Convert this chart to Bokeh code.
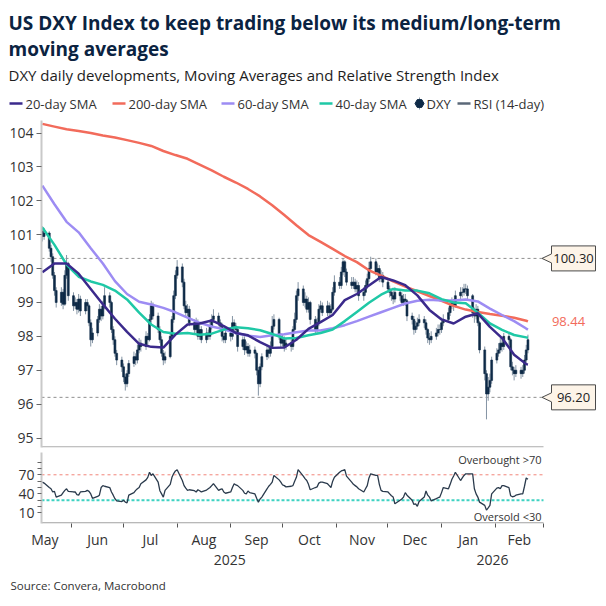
import pandas as pd
from bokeh.plotting import figure
from bokeh.layouts import column
from bokeh.models import Range1d, FixedTicker, LinearAxis
from bokeh.core.properties import value
from bokeh.embed import file_html
from bokeh.resources import INLINE

# ---------------------------------------------------------------- data
# DXY daily candles (business days from 15 May 2025)
first_open = 101.10
close = [
    100.95, 101.05, 100.60, 100.35, 99.80, 99.35, 99.00, 99.30, 98.95, 99.80,
    100.15, 99.20, 98.90, 99.00, 98.80, 99.10, 98.75, 99.00, 98.90, 98.40,
    97.90, 98.10, 98.50, 98.80, 98.60, 98.90, 99.20, 99.00, 98.20, 97.90,
    97.50, 97.30, 97.10, 96.80, 96.60, 96.90, 97.20, 97.40, 97.30, 97.60,
    97.80, 97.70, 98.00, 97.90, 98.50, 98.90, 98.60, 98.20, 97.90, 97.50,
    97.30, 97.40, 98.00, 98.50, 99.20, 99.80, 100.05, 99.60, 98.90, 98.70,
    98.80, 98.40, 98.20, 98.40, 98.00, 98.20, 97.90, 98.10, 98.00, 98.30,
    98.50, 98.60, 98.40, 98.30, 98.00, 97.90, 98.10, 98.00, 98.40, 98.30,
    98.20, 97.70, 97.90, 97.60, 97.70, 97.50, 97.60, 97.50, 97.00, 96.60,
    97.10, 97.40, 97.60, 97.50, 97.70, 98.30, 98.50, 98.00, 97.80, 97.90,
    97.70, 97.80, 97.70, 98.20, 98.50, 99.20, 99.40, 99.00, 99.10, 98.80,
    99.00, 98.50, 98.20, 98.40, 98.80, 98.90, 98.70, 98.90, 98.70, 98.80,
    99.30, 99.60, 99.50, 99.90, 100.20, 99.90, 99.60, 99.50, 99.60, 99.40,
    99.50, 99.20, 99.30, 99.50, 99.70, 100.00, 100.20, 99.90, 100.00, 99.70,
    99.80, 99.60, 99.40, 99.30, 99.20, 99.10, 99.30, 99.20, 99.00, 99.10,
    99.05, 98.60, 98.50, 98.20, 98.30, 98.40, 98.50, 98.40, 98.20, 97.95,
    97.90, 98.00, 98.10, 98.20, 98.20, 98.40, 98.50, 98.70, 98.90, 99.00,
    98.90, 99.20, 99.30, 99.30, 99.40, 99.40, 99.20, 98.70, 98.60, 98.80,
    98.40, 97.60, 96.90, 96.30, 96.50, 96.70, 97.30, 97.50, 97.60, 97.80,
    97.70, 98.00, 97.90, 97.10, 97.00, 96.90, 97.00, 96.90, 97.00, 97.30,
    97.60, 97.90,
]
high = [
    101.25, 101.20, 101.10, 100.70, 100.45, 99.90, 99.45, 99.45, 99.40, 99.95,
    100.40, 100.20, 99.30, 99.15, 99.10, 99.25, 99.20, 99.10, 99.10, 98.95,
    98.50, 98.25, 98.60, 98.95, 98.90, 99.05, 99.45, 99.30, 99.05, 98.30,
    98.00, 97.60, 97.40, 97.20, 96.90, 97.00, 97.30, 97.55, 97.50, 97.75,
    97.95, 97.90, 98.15, 98.10, 98.65, 99.05, 99.00, 98.70, 98.30, 98.00,
    97.60, 97.55, 98.10, 98.60, 99.35, 99.95, 100.25, 100.15, 99.70, 99.05,
    98.95, 98.90, 98.50, 98.55, 98.50, 98.35, 98.30, 98.25, 98.20, 98.45,
    98.65, 98.80, 98.70, 98.50, 98.40, 98.10, 98.25, 98.20, 98.60, 98.50,
    98.40, 98.25, 98.00, 98.00, 97.85, 97.80, 97.75, 97.70, 97.55, 97.10,
    97.20, 97.50, 97.75, 97.70, 97.85, 98.60, 98.65, 98.55, 98.10, 98.05,
    98.00, 97.95, 97.90, 98.30, 98.70, 99.35, 99.60, 99.50, 99.30, 99.20,
    99.15, 99.05, 98.60, 98.55, 98.95, 99.05, 99.00, 99.05, 99.00, 98.95,
    99.45, 99.80, 99.75, 100.05, 100.30, 100.25, 100.00, 99.75, 99.75, 99.70,
    99.65, 99.60, 99.45, 99.65, 99.85, 100.20, 100.35, 100.30, 100.15, 100.10,
    99.95, 99.90, 99.70, 99.50, 99.40, 99.35, 99.45, 99.40, 99.30, 99.25,
    99.25, 99.10, 98.70, 98.60, 98.45, 98.55, 98.65, 98.60, 98.50, 98.25,
    98.10, 98.15, 98.25, 98.35, 98.35, 98.55, 98.65, 98.85, 99.05, 99.15,
    99.10, 99.35, 99.45, 99.45, 99.55, 99.55, 99.50, 99.25, 98.85, 98.95,
    98.90, 98.45, 97.70, 97.00, 96.80, 96.90, 97.40, 97.65, 97.80, 97.95,
    97.95, 98.10, 98.10, 97.95, 97.25, 97.10, 97.15, 97.10, 97.15, 97.45,
    97.75, 98.05,
]
low = [
    100.80, 100.85, 100.50, 100.20, 99.70, 99.20, 98.85, 98.90, 98.80, 98.90,
    99.70, 99.05, 98.75, 98.80, 98.65, 98.70, 98.60, 98.65, 98.75, 98.30,
    97.70, 97.80, 98.00, 98.40, 98.45, 98.50, 98.80, 98.85, 98.10, 97.75,
    97.40, 97.15, 96.95, 96.65, 96.40, 96.50, 96.80, 97.10, 97.15, 97.20,
    97.50, 97.55, 97.60, 97.75, 97.85, 98.40, 98.50, 98.10, 97.80, 97.40,
    97.15, 97.20, 97.35, 97.90, 98.40, 99.10, 99.70, 99.45, 98.80, 98.55,
    98.60, 98.30, 98.05, 98.10, 97.90, 97.90, 97.80, 97.80, 97.90, 97.90,
    98.20, 98.40, 98.30, 98.15, 97.85, 97.80, 97.80, 97.85, 97.90, 98.15,
    98.05, 97.55, 97.60, 97.45, 97.50, 97.40, 97.40, 97.35, 96.85, 96.25,
    96.50, 97.00, 97.30, 97.35, 97.40, 97.65, 98.20, 97.90, 97.65, 97.70,
    97.55, 97.60, 97.55, 97.60, 98.10, 98.40, 99.05, 98.90, 98.85, 98.70,
    98.70, 98.35, 98.10, 98.10, 98.30, 98.70, 98.60, 98.60, 98.60, 98.60,
    98.75, 99.20, 99.40, 99.40, 99.80, 99.75, 99.50, 99.40, 99.40, 99.30,
    99.30, 99.05, 99.05, 99.20, 99.40, 99.60, 99.90, 99.80, 99.80, 99.60,
    99.60, 99.45, 99.30, 99.15, 99.05, 98.95, 99.00, 99.05, 98.90, 98.90,
    98.90, 98.45, 98.35, 98.05, 98.10, 98.20, 98.30, 98.25, 98.05, 97.80,
    97.75, 97.80, 97.90, 98.00, 98.05, 98.10, 98.30, 98.40, 98.60, 98.80,
    98.75, 98.85, 99.10, 99.15, 99.20, 99.25, 99.10, 98.55, 98.40, 98.50,
    98.30, 97.50, 96.70, 95.55, 96.10, 96.35, 96.60, 97.20, 97.40, 97.50,
    97.55, 97.60, 97.75, 97.00, 96.85, 96.70, 96.80, 96.75, 96.80, 96.90,
    97.20, 97.50,
]
# RSI (14-day), same business days
rsi = [
    58.5, 57, 50, 48, 43, 44, 35, 38, 42, 45.5,
    48, 44, 43, 43, 39, 38, 43, 44, 45.5, 44,
    40, 33, 36, 38, 50, 53, 52, 50, 43, 38,
    32.5, 29, 28, 30, 27, 26, 38, 42, 45.5, 48,
    50, 56, 62, 66, 74, 69, 71.5, 58.5, 45, 40,
    35, 45.5, 55, 66, 72, 76, 78, 61, 53, 49,
    45.5, 46.5, 45, 43, 46.5, 45, 43, 46, 48, 50,
    53, 56, 45.5, 47, 48, 43, 41, 43, 50, 56,
    54, 53, 45.5, 41, 40, 44.5, 42, 40, 33, 27,
    32, 35, 48, 52, 55, 58.5, 69, 62, 58.5, 54,
    53, 51, 52, 53, 60, 66, 78, 68, 64, 61,
    55, 46.5, 50, 51, 57, 58.5, 58.5, 56, 53, 50,
    60, 66, 74, 76, 77, 78, 68, 58.5, 55, 53,
    51, 48, 43, 48, 53, 65, 71.5, 69, 69, 55,
    45.5, 44, 43, 40, 37, 35, 24.5, 30, 32, 35,
    42, 38, 30, 23.5, 24.5, 20.5, 28, 35, 44.5, 38,
    35, 29, 32.5, 34, 35, 42, 50, 48, 55, 63,
    68, 74, 61, 65, 69, 71.5, 71.5, 71.5, 48, 40,
    35, 27, 22, 14.5, 18, 22, 40, 49, 50, 48,
    53, 53, 50, 37, 35.5, 36, 38, 40, 40, 52,
    65, 63,
]
# moving averages, sampled every 5th business day (plus the last day)
sma_idx = list(range(0, 201, 5)) + [201]
sma20 = [99.89, 100.15, 100.15, 99.85, 99.40, 98.95, 98.52, 98.13, 97.78, 97.69,
         97.67, 98.05, 98.35, 98.38, 98.47, 98.30, 98.10, 98.03, 97.83, 97.66,
         97.67, 97.90, 98.22, 98.42, 98.63, 99.07, 99.25, 99.50, 99.75, 99.65,
         99.51, 99.21, 98.78, 98.50, 98.38, 98.58, 98.68, 98.28, 97.95, 97.46,
         97.18, 97.17]
sma40 = [101.21, 100.70, 100.12, 99.76, 99.62, 99.52, 99.35, 99.09, 98.70, 98.35,
         98.13, 98.08, 98.10, 98.05, 98.08, 98.20, 98.27, 98.24, 98.18, 98.07,
         97.94, 97.95, 98.03, 98.10, 98.20, 98.45, 98.72, 98.99, 99.23, 99.40,
         99.35, 99.35, 99.27, 99.10, 99.00, 98.98, 98.70, 98.38, 98.19, 98.04,
         97.97, 97.96]
sma60 = [102.45, 101.90, 101.38, 101.07, 100.60, 100.15, 99.63, 99.25, 99.02, 98.94,
         98.84, 98.71, 98.55, 98.40, 98.29, 98.21, 98.10, 98.02, 97.98, 98.03,
         98.06, 98.12, 98.17, 98.17, 98.24, 98.33, 98.45, 98.58, 98.71, 98.84,
         98.97, 99.05, 99.08, 99.06, 99.06, 99.09, 99.03, 98.82, 98.63, 98.45,
         98.23, 98.20]
sma200 = [104.27, 104.19, 104.11, 104.06, 104.00, 103.93, 103.87, 103.79, 103.71, 103.62,
          103.47, 103.35, 103.24, 103.07, 102.90, 102.71, 102.54, 102.35, 102.13, 101.87,
          101.58, 101.28, 100.99, 100.79, 100.58, 100.37, 100.19, 99.95, 99.79, 99.62,
          99.47, 99.33, 99.19, 99.05, 98.90, 98.79, 98.72, 98.66, 98.61, 98.55,
          98.46, 98.44]

ref_levels = [100.30, 96.20]
month_names = ["May", "Jun", "Jul", "Aug", "Sep", "Oct", "Nov", "Dec", "Jan", "Feb"]
month_first = ["2025-05-01", "2025-06-01", "2025-07-01", "2025-08-01", "2025-09-01",
               "2025-10-01", "2025-11-01", "2025-12-01", "2026-01-01", "2026-02-01",
               "2026-03-01"]
year_names = ["2025", "2026"]
year_spans = [("2025-05-01", "2026-01-01"), ("2026-01-01", "2026-03-01")]

TITLE_1 = "US DXY Index to keep trading below its medium/long-term"
TITLE_2 = "moving averages"
SUBTITLE = "DXY daily developments, Moving Averages and Relative Strength Index"
SOURCE = "Source: Convera, Macrobond"
legend_labels = ["20-day SMA", "200-day SMA", "60-day SMA", "40-day SMA", "DXY", "RSI (14-day)"]

# ---------------------------------------------------------------- styling
FONT_NAME = "Open Sans"
FONT = value(FONT_NAME)
C_20, C_200, C_60, C_40 = "#3b2a8c", "#f26b5b", "#9d8cf3", "#1fc8a6"
C_BODY, C_WICK = "#0e2a47", "#8494a4"
C_RSI = "#2a3a4c"
TXT = "#333333"
SMA_W = 2.5


def ms(t):
    return pd.Timestamp(t).timestamp() * 1000.0


dates = pd.bdate_range("2025-05-15", periods=len(close))
x = [ms(d) for d in dates]
open_ = [first_open] + close[:-1]
body_top = [max(o, c) for o, c in zip(open_, close)]
body_bot = [min(o, c) for o, c in zip(open_, close)]
sx = [x[i] for i in sma_idx]

W = 606
PLOT_L = 41
AXIS_W = 502
X0 = ms("2025-05-14 12:00")
X1 = ms(month_first[-1])
PX = (X1 - X0) / AXIS_W          # ms per screen pixel
X_END = X0 + (W - PLOT_L) * PX   # frames run to the right edge of the page
DAY = 86400000.0

Y_LO, Y_HI = 94.72, 104.37
PPU = 327 / (Y_HI - Y_LO)
R_LO, R_HI = -6.5, 105.0
RPU = 71 / (R_HI - R_LO)


def style_y(ax):
    ax.axis_line_color = "#c9c9c9"
    ax.axis_line_width = 2
    ax.major_tick_line_color = "#666666"
    ax.minor_tick_line_color = "#666666"
    ax.major_tick_in = 0
    ax.minor_tick_in = 0
    ax.major_tick_out = 5
    ax.minor_tick_out = 5
    ax.major_label_standoff = 3
    ax.major_label_text_font = FONT_NAME
    ax.major_label_text_font_size = "14px"
    ax.major_label_text_color = TXT


def blank(fig):
    fig.outline_line_color = None
    fig.grid.visible = False
    fig.background_fill_color = "white"
    fig.border_fill_color = "white"


def strip(height):
    # free-standing text strip measured in page pixels (y grows downwards)
    f = figure(width=W, height=height, x_range=Range1d(0, W), y_range=Range1d(height, 0),
               x_axis_location=None, y_axis_location=None, min_border=0,
               frame_align=False, toolbar_location=None, output_backend="svg")
    blank(f)
    return f


# ---------------------------------------------------------------- header
hdr = strip(118)
hdr.text(x=[8, 8], y=[22, 48], text=[TITLE_1, TITLE_2], text_font=FONT,
         text_font_style="bold", text_font_size="19px", text_color="#0b2341",
         text_baseline="middle")
hdr.text(x=[8], y=[74], text=[SUBTITLE], text_font=FONT, text_font_size="15px",
         text_color="#1e1e1e", text_baseline="middle")

legend_colors = [C_20, C_200, C_60, C_40, C_BODY, "#5b6878"]
legend_x = [9, 112, 221, 319, 416, 457]
LY = 103
for lab, col, lx in zip(legend_labels, legend_colors, legend_x):
    if lab == "DXY":
        hdr.segment(x0=[lx + 3], y0=[LY - 6], x1=[lx + 3], y1=[LY + 6], line_color=C_WICK, line_width=1)
        hdr.scatter(x=[lx + 3], y=[LY], marker="hex", size=9, fill_color=C_BODY, line_color=C_BODY)
        tx = lx + 10
    else:
        hdr.segment(x0=[lx], y0=[LY], x1=[lx + 13], y1=[LY], line_color=col, line_width=2.5)
        tx = lx + 16
    hdr.text(x=[tx], y=[LY], text=[lab], text_font=FONT, text_font_size="13px",
             text_color=TXT, text_baseline="middle")

# ---------------------------------------------------------------- price panel
p = figure(width=W, height=332, x_range=Range1d(X0, X_END), y_range=Range1d(Y_LO, Y_HI),
           min_border_left=PLOT_L, min_border_right=0, min_border_top=2, min_border_bottom=3,
           x_axis_location=None, toolbar_location=None, output_backend="svg")
blank(p)
p.yaxis.ticker = FixedTicker(ticks=list(range(95, 105)))
style_y(p.yaxis[0])

# panel base line
base = Y_LO + 0.6 / PPU
p.segment(x0=[X0], y0=[base], x1=[X1], y1=[base], line_color="#9a9a9a", line_width=1)

# key levels with callouts
for lvl in ref_levels:
    tip = X1 - 1.5 * PX
    p.segment(x0=[X0], y0=[lvl], x1=[tip], y1=[lvl], line_color="#8f8f8f",
              line_dash="3 3", line_width=1)
    bl, br = X1 + 8 * PX, X1 + 52 * PX
    h, a = 12.5 / PPU, 4.5 / PPU
    p.patch(x=[tip, bl, bl, br, br, bl, bl],
            y=[lvl, lvl + a, lvl + h, lvl + h, lvl - h, lvl - h, lvl - a],
            fill_color="#fdf4e8", line_color="#4a4a4a", line_width=1)
    p.text(x=[(bl + br) / 2], y=[lvl], text=[f"{lvl:.2f}"], text_font=FONT,
           text_font_size="13px", text_color="#222222", text_align="center",
           text_baseline="middle")

# candles
p.segment(x0=x, y0=low, x1=x, y1=high, line_color=C_WICK, line_width=1)
p.vbar(x=x, width=1.1 * DAY, bottom=body_bot, top=body_top,
       fill_color=C_BODY, line_color=C_BODY, line_width=0.6)

# moving averages
p.line(sx, sma200, line_color=C_200, line_width=SMA_W)
p.line(sx, sma60, line_color=C_60, line_width=SMA_W)
p.line(sx, sma40, line_color=C_40, line_width=SMA_W)
p.line(sx, sma20, line_color=C_20, line_width=SMA_W)

p.text(x=[X1 + 25 * PX], y=[sma200[-1]], text=[f"{sma200[-1]:.2f}"], text_font=FONT,
       text_font_size="13px", text_color=C_200, text_align="center", text_baseline="middle")

# ---------------------------------------------------------------- RSI panel
r = figure(width=W, height=122, x_range=Range1d(X0, X_END), y_range=Range1d(R_LO, R_HI),
           min_border_left=PLOT_L, min_border_right=0, min_border_top=2, min_border_bottom=49,
           x_axis_location=None, toolbar_location=None, output_backend="svg")
blank(r)
r.yaxis.ticker = FixedTicker(ticks=[10, 40, 70], minor_ticks=[20, 30, 50, 60, 80, 90])
style_y(r.yaxis[0])
r.yaxis[0].major_tick_out = 4
r.yaxis[0].minor_tick_out = 4

r.segment(x0=[X0], y0=[70], x1=[X1], y1=[70], line_color="#f2857a", line_dash="3 3", line_width=1)
r.segment(x0=[X0], y0=[30], x1=[X1], y1=[30], line_color="#3fd2c2", line_dash="3 2", line_width=2)
r.line(x, rsi, line_color=C_RSI, line_width=1.3)
r.text(x=[X1 - 2 * PX, X1 - 2 * PX], y=[94, 4.5], text=["Overbought >70", "Oversold <30"],
       text_font=FONT, text_font_size="11px", text_color=TXT, text_align="right",
       text_baseline="middle")
rbase = R_LO + 0.6 / RPU
r.segment(x0=[X0], y0=[rbase], x1=[X1], y1=[rbase], line_color="#8a8a8a", line_width=1)

# month axis: boundaries as ticks, names centred in each month
bounds = [int(ms(m)) for m in month_first]
mids = [int((a + b) / 2) for a, b in zip(bounds[:-1], bounds[1:])]
ax_m = LinearAxis(ticker=FixedTicker(ticks=mids, minor_ticks=bounds[1:]),
                  major_label_overrides={m: n for m, n in zip(mids, month_names)})
ax_m.axis_line_color = None
ax_m.major_tick_line_color = None
ax_m.major_tick_out = 0
ax_m.major_tick_in = 0
ax_m.minor_tick_line_color = "#555555"
ax_m.minor_tick_out = 4
ax_m.minor_tick_in = 0
ax_m.major_label_standoff = 2
ax_m.major_label_text_font = FONT_NAME
ax_m.major_label_text_font_size = "14px"
ax_m.major_label_text_color = TXT
r.add_layout(ax_m, "below")

ymids = [int((ms(a) + ms(b)) / 2) for a, b in year_spans]
ax_y = LinearAxis(ticker=FixedTicker(ticks=ymids, minor_ticks=[]),
                  major_label_overrides={m: n for m, n in zip(ymids, year_names)})
ax_y.axis_line_color = None
ax_y.major_tick_line_color = None
ax_y.minor_tick_line_color = None
ax_y.major_tick_out = 0
ax_y.major_tick_in = 0
ax_y.major_label_standoff = 3
ax_y.major_label_text_font = FONT_NAME
ax_y.major_label_text_font_size = "14px"
ax_y.major_label_text_color = TXT
r.add_layout(ax_y, "below")

# ---------------------------------------------------------------- footer
ft = strip(34)
ft.text(x=[10], y=[13], text=[SOURCE], text_font=FONT, text_font_size="11.5px",
        text_color=TXT, text_baseline="middle")

layout = column(hdr, p, r, ft, spacing=0)
open("out.html", "w").write(file_html(layout, INLINE))
